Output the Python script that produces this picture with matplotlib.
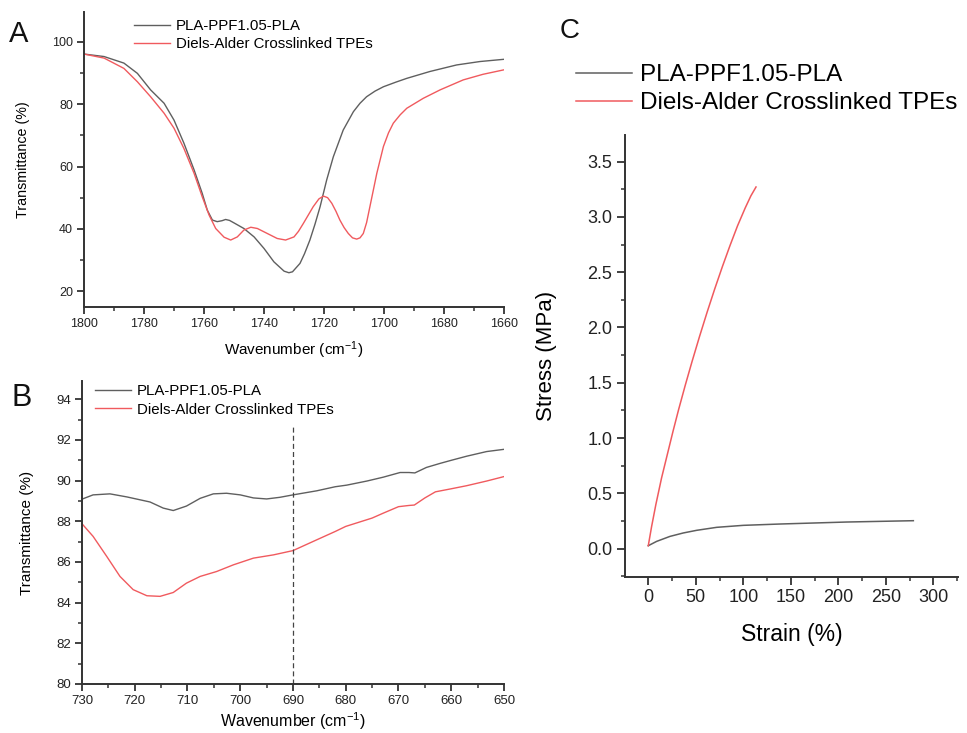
import matplotlib
matplotlib.use("Agg")
import matplotlib.pyplot as plt
from matplotlib.ticker import MultipleLocator

plt.rcParams['font.family'] = ['Liberation Sans', 'DejaVu Sans']
plt.rcParams['mathtext.fontset'] = 'custom'
plt.rcParams['mathtext.rm'] = 'Liberation Sans'
plt.rcParams['mathtext.it'] = 'Liberation Sans:italic'

GRAY = '#5f5f5f'
RED = '#f05a5e'
AXC = '#333333'
labels = ['PLA-PPF1.05-PLA', 'Diels-Alder Crosslinked TPEs']
wn_label = r'Wavenumber (cm$^{\mathregular{-1}}$)'

# --- A: FTIR carbonyl region ---
a_wn_gray = [1800, 1793.3, 1786.7, 1782.2, 1777.8, 1773.3, 1770, 1766.7, 1763.3, 1760.6,
             1758.9, 1757.2, 1755.6, 1754, 1752.8, 1751.5, 1750, 1746.7, 1743.3, 1740, 1736.7,
             1733.3, 1731.7, 1730.5, 1728, 1726.5, 1724.7, 1723, 1721.3, 1719.1, 1716.9, 1713.6,
             1710.2, 1708, 1705.8, 1703, 1700.2, 1696, 1692.4, 1684.7, 1675.8, 1668, 1660.2]
a_tr_gray = [96.1, 95.3, 93.2, 89.9, 84.6, 80.3, 74.9, 67.5, 58.9, 51.4,
             46.0, 42.8, 42.3, 42.6, 43.0, 42.7, 41.9, 40.1, 37.4, 33.7, 29.4,
             26.4, 25.9, 26.2, 28.9, 32.0, 36.4, 41.5, 47.1, 55.7, 63.1, 71.7,
             77.6, 80.3, 82.4, 84.2, 85.6, 87.1, 88.3, 90.5, 92.6, 93.7, 94.4]
a_wn_red = [1800, 1793.3, 1786.7, 1782.2, 1777.8, 1773.3, 1770, 1766.7, 1763.3, 1760.6,
            1758.3, 1756.1, 1753.3, 1751.1, 1748.9, 1746.7, 1744.4, 1742.2, 1738.9, 1735.6,
            1732.8, 1730, 1728.5, 1726.9, 1723.6, 1721.7, 1720.2, 1718.8, 1717.4, 1716, 1714.7,
            1713.3, 1711.9, 1710.5, 1709.1, 1708, 1706.9, 1705.8, 1704.7, 1702.4, 1700.2, 1698.5,
            1696.9, 1694.6, 1692.4, 1686.9, 1681.3, 1673.6, 1667, 1660.2]
a_tr_red = [96.1, 94.8, 91.5, 87.2, 82.4, 77.1, 72.3, 65.8, 57.8, 50.3,
            44.4, 40.1, 37.3, 36.4, 37.4, 39.6, 40.5, 40.1, 38.5, 36.9,
            36.4, 37.4, 39.2, 41.7, 47.1, 49.6, 50.5, 50.0, 48.2, 45.6, 42.8,
            40.4, 38.5, 37.1, 36.7, 37.1, 38.5, 42.0, 47.1, 57.8, 66.4, 70.8,
            73.9, 76.6, 78.7, 81.9, 84.6, 87.8, 89.6, 91.0]

# --- B: FTIR 730-650 region ---
b_wn_gray = [730, 727.9, 724.7, 721.5, 717.1, 714.6, 712.7, 710.2, 707.6, 705.1, 702.6, 700,
             697.5, 695, 692.5, 690, 685.5, 682, 679.8, 676, 672.9, 669.7, 668, 666.9, 664.7,
             662.1, 660, 657.1, 653.3, 650]
b_tr_gray = [89.09, 89.3, 89.35, 89.2, 88.95, 88.65, 88.53, 88.75, 89.13, 89.35, 89.38, 89.3,
             89.15, 89.1, 89.18, 89.3, 89.5, 89.7, 89.78, 89.98, 90.17, 90.4, 90.4, 90.38, 90.65,
             90.85, 91.0, 91.2, 91.43, 91.54]
b_wn_red = [730, 727.9, 725.3, 722.8, 720.3, 717.7, 715.2, 712.7, 710.2, 707.6, 704.5, 701.3,
            697.5, 693.7, 690, 685.5, 682, 680, 675, 672.9, 670, 668, 667, 665, 663, 660,
            657.1, 653.3, 650]
b_tr_red = [87.88, 87.26, 86.27, 85.29, 84.64, 84.34, 84.31, 84.5, 84.96, 85.29, 85.53, 85.86,
            86.19, 86.35, 86.56, 87.09, 87.5, 87.75, 88.16, 88.4, 88.72, 88.78, 88.8, 89.15,
            89.45, 89.6, 89.75, 89.98, 90.2]

# --- C: tensile test ---
c_strain_gray = [0, 8.8, 22.8, 36.8, 50.9, 72, 100, 138.6, 173.7, 208.8, 243.9, 279]
c_stress_gray = [0.027, 0.066, 0.111, 0.142, 0.166, 0.193, 0.211, 0.223, 0.232, 0.241, 0.247, 0.253]
c_strain_red = [0, 3.5, 8, 14, 20, 26, 32, 39, 46, 54, 62, 70, 78, 86, 94, 102, 108, 113.4]
c_stress_red = [0.027, 0.20, 0.40, 0.64, 0.85, 1.06, 1.26, 1.48, 1.69, 1.92, 2.14, 2.35, 2.55,
                2.74, 2.92, 3.08, 3.19, 3.27]

W, H = 967, 733
fig = plt.figure(figsize=(W / 100, H / 100), dpi=100)


def style(ax, fs):
    for s in ['top', 'right']:
        ax.spines[s].set_visible(False)
    for s in ['left', 'bottom']:
        ax.spines[s].set_linewidth(1.4)
        ax.spines[s].set_color(AXC)
    ax.tick_params(which='major', direction='out', length=5, width=1.3, color=AXC,
                   labelsize=fs, labelcolor='#222222', pad=3)
    ax.tick_params(which='minor', direction='out', length=3, width=1.1, color=AXC)


def fx(px):
    return px / W


def fy(py):
    return 1 - py / H


# panel A
axA = fig.add_axes([fx(84), fy(307), fx(504) - fx(84), fy(12) - fy(307)])
axA.plot(a_wn_gray, a_tr_gray, color=GRAY, lw=1.0, label=labels[0])
axA.plot(a_wn_red, a_tr_red, color=RED, lw=1.0, label=labels[1])
axA.set_xlim(1800, 1660)
axA.set_ylim(14.9, 109.6)
axA.xaxis.set_major_locator(MultipleLocator(20))
axA.xaxis.set_minor_locator(MultipleLocator(10))
axA.yaxis.set_major_locator(MultipleLocator(20))
axA.yaxis.set_minor_locator(MultipleLocator(10))
axA.set_yticks([20, 40, 60, 80, 100])
style(axA, 9)
axA.set_xlabel(wn_label, fontsize=11, labelpad=7)
axA.set_ylabel('Transmittance (%)', fontsize=10.3, labelpad=16)
axA.legend(loc='upper left', bbox_to_anchor=(fx(134), fy(19)), bbox_transform=fig.transFigure,
           frameon=False, fontsize=10.8, handlelength=2.4, handletextpad=0.4,
           labelspacing=0.25, borderpad=0, borderaxespad=0)
fig.text(fx(9), fy(42), 'A', fontsize=21, color='#111111')

# panel B
axB = fig.add_axes([fx(82), fy(684), fx(504) - fx(82), fy(381) - fy(684)])
axB.plot(b_wn_gray, b_tr_gray, color=GRAY, lw=1.0, label=labels[0])
axB.plot(b_wn_red, b_tr_red, color=RED, lw=1.0, label=labels[1])
axB.plot([690, 690], [80, 92.65], color='#444444', lw=0.9, ls=(0, (4, 2.5)))
axB.set_xlim(730, 650)
axB.set_ylim(80, 94.9)
axB.xaxis.set_major_locator(MultipleLocator(10))
axB.xaxis.set_minor_locator(MultipleLocator(5))
axB.yaxis.set_major_locator(MultipleLocator(2))
axB.yaxis.set_minor_locator(MultipleLocator(1))
axB.set_yticks([80, 82, 84, 86, 88, 90, 92, 94])
style(axB, 9.5)
axB.set_xlabel(wn_label, fontsize=11.5, labelpad=2)
axB.set_ylabel('Transmittance (%)', fontsize=11, labelpad=16)
axB.legend(loc='upper left', bbox_to_anchor=(fx(95), fy(384)), bbox_transform=fig.transFigure,
           frameon=False, fontsize=10.8, handlelength=2.4, handletextpad=0.4,
           labelspacing=0.3, borderpad=0, borderaxespad=0)
fig.text(fx(11), fy(406), 'B', fontsize=22, color='#111111')

# panel C
axC = fig.add_axes([fx(625), fy(577), fx(958) - fx(625), fy(135) - fy(577)])
axC.plot(c_strain_gray, c_stress_gray, color=GRAY, lw=1.1, label=labels[0])
axC.plot(c_strain_red, c_stress_red, color=RED, lw=1.1, label=labels[1])
axC.set_xlim(-24.5, 326)
axC.set_ylim(-0.256, 3.74)
axC.xaxis.set_major_locator(MultipleLocator(50))
axC.xaxis.set_minor_locator(MultipleLocator(25))
axC.yaxis.set_major_locator(MultipleLocator(0.5))
axC.yaxis.set_minor_locator(MultipleLocator(0.25))
axC.set_xticks([0, 50, 100, 150, 200, 250, 300])
axC.set_yticks([0, 0.5, 1.0, 1.5, 2.0, 2.5, 3.0, 3.5])
axC.yaxis.set_major_formatter(lambda v, p: f'{v:.1f}')
style(axC, 13)
axC.tick_params(which='major', length=6)
axC.set_xlabel('Strain (%)', fontsize=16.5, labelpad=12)
axC.set_ylabel('Stress (MPa)', fontsize=16, labelpad=22)
axC.legend(loc='upper left', bbox_to_anchor=(fx(576), fy(64)), bbox_transform=fig.transFigure,
           frameon=False, fontsize=17.5, handlelength=2.3, handletextpad=0.35,
           labelspacing=0.25, borderpad=0, borderaxespad=0)
fig.text(fx(560), fy(38), 'C', fontsize=20, color='#111111')

fig.savefig('out.png', dpi=100)
